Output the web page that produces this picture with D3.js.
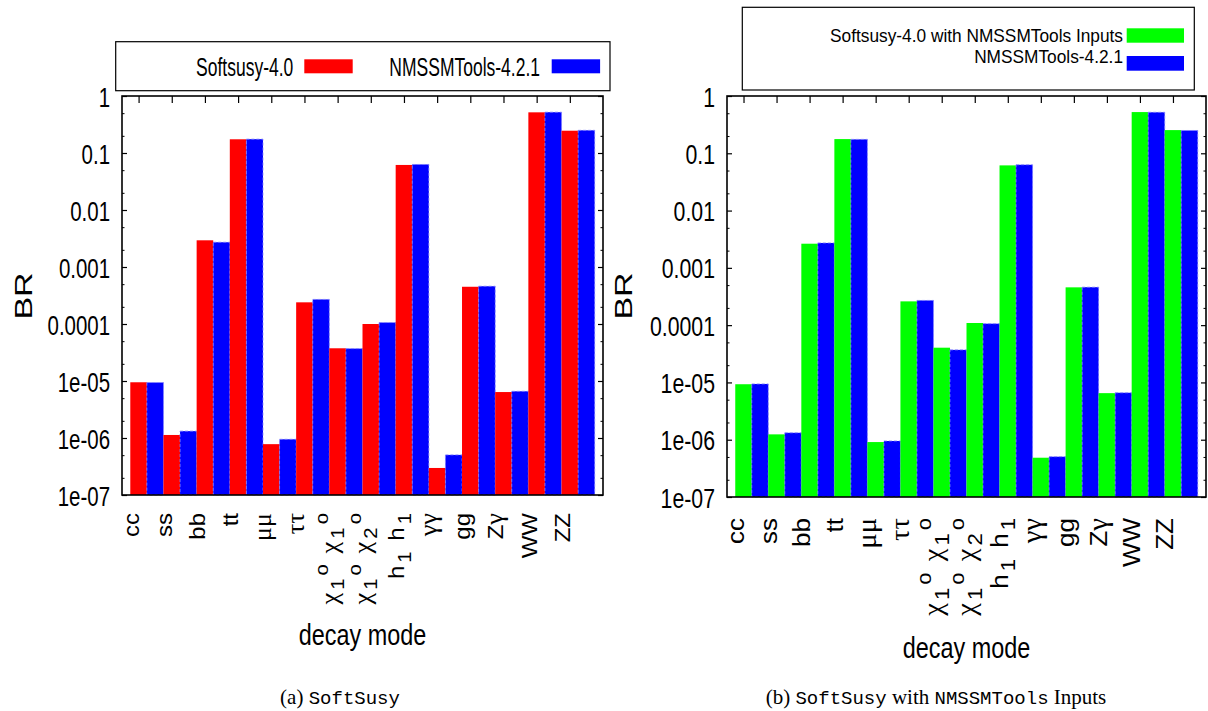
<!DOCTYPE html>
<html>
<head>
<meta charset="utf-8">
<script src="https://cdn.jsdelivr.net/npm/d3@7"></script>
<style>
  body { margin: 0; background: #fff; }
  text { font-family: "Liberation Sans", Arial, sans-serif; fill: #000; }
</style>
</head>
<body>
<div id="chart"></div>
<script>
// decay modes (gnuplot-style markup: _ subscript, ^ superscript)
const categories = ['cc', 'ss', 'bb', 'tt', 'μμ', 'ττ', 'χ_1^o χ_1^o', 'χ_1^o χ_2^o',
  'h_1 h_1', 'γγ', 'gg', 'Zγ', 'WW', 'ZZ'];

const yTickValues = [1, 0.1, 0.01, 0.001, 0.0001, 1e-5, 1e-6, 1e-7];
const yTickLabels = ['1', '0.1', '0.01', '0.001', '0.0001', '1e-05', '1e-06', '1e-07'];

// branching ratios
const softsusyA = [9.5e-6, 1.13e-6, 2.94e-3, 0.174, 7.8e-7, 2.4e-4, 3.75e-5, 1.0e-4,
  0.0617, 2.98e-7, 4.5e-4, 6.4e-6, 0.517, 0.246];
const softsusyB = [9.3e-6, 1.24e-6, 2.64e-3, 0.177, 9.1e-7, 2.6e-4, 4.04e-5, 1.09e-4,
  0.0615, 4.85e-7, 4.57e-4, 6.5e-6, 0.524, 0.254];
const nmssmtools = [9.4e-6, 1.32e-6, 2.72e-3, 0.175, 9.5e-7, 2.7e-4, 3.7e-5, 1.06e-4,
  0.063, 5.05e-7, 4.6e-4, 6.6e-6, 0.52, 0.25];

const svg = d3.select('#chart').append('svg')
  .attr('width', 1208)
  .attr('height', 711);

// condensed text: squeeze horizontally like the original figure
const narrow = (parent, x, y, str, size, k, anchor, rot) => {
  const g = parent.append('g')
    .attr('transform', `translate(${x},${y}) scale(${k},1)` + (rot ? ' rotate(-90)' : ''));
  return g.append('text')
    .attr('font-size', size)
    .attr('text-anchor', anchor || 'start')
    .text(str);
};

const greek = /[α-ω]/;

// write a label with _x / ^x markup into tspans
const richLabel = (textSel, str, size) => {
  let shift = 0;
  for (let i = 0; i < str.length; i++) {
    let ch = str[i];
    let target = 0;
    let fs = size;
    if (ch === '_' || ch === '^') {
      target = ch === '_' ? size * 0.3 : -size * 0.45;
      fs = size * 0.85;
      ch = str[++i];
    }
    const ts = textSel.append('tspan')
      .attr('dy', target - shift)
      .attr('font-size', greek.test(ch) ? fs * 1.1 : fs)
      .attr('dx', fs < size ? 3 : (ch === ' ' ? 4 : 0))
      .text(ch);
    if (greek.test(ch)) ts.style('font-family', '"Liberation Serif", "DejaVu Serif", serif');
    shift = target;
  }
};

const drawPanel = (p) => {
  const g = svg.append('g');
  const x = d3.scaleLinear().domain([-0.5, 14]).range([p.left, p.right]);
  const y = d3.scaleLog().domain([1e-7, 1]).range([p.bottom, p.top]);

  // bars
  categories.forEach((c, i) => {
    g.append('rect')
      .attr('x', x(i - 0.25))
      .attr('width', x(i + 0.25) - x(i - 0.25))
      .attr('y', y(p.first[i]))
      .attr('height', p.bottom - y(p.first[i]))
      .attr('fill', p.color);
    g.append('rect')
      .attr('x', x(i + 0.25))
      .attr('width', x(i + 0.75) - x(i + 0.25))
      .attr('y', y(p.second[i]))
      .attr('height', p.bottom - y(p.second[i]))
      .attr('fill', '#0000ff')
      .attr('stroke', '#8080ff')
      .attr('stroke-width', 0.8)
      .attr('stroke-dasharray', '3,2');
  });

  // minor ticks at 2x and 5x each decade
  const minor = [];
  d3.range(-7, 0).forEach((e) => { minor.push(2 * 10 ** e, 5 * 10 ** e); });

  const left = g.append('g')
    .attr('transform', `translate(${p.left},0)`)
    .call(d3.axisLeft(y).tickValues(yTickValues)
      .tickFormat((d, i) => yTickLabels[i]).tickSize(-5).tickPadding(12))
    .attr('font-size', 28)
    .attr('font-family', '"Liberation Sans", Arial, sans-serif');
  left.select('.domain').remove();
  left.selectAll('line').attr('stroke-width', 1.2);
  left.selectAll('text')
    .attr('transform', `scale(${p.tickK},1)`)
    .attr('x', -12 / p.tickK)
    .attr('dy', '0.36em');

  const leftMinor = g.append('g')
    .attr('transform', `translate(${p.left},0)`)
    .call(d3.axisLeft(y).tickValues(minor).tickFormat('').tickSize(-2.5));
  leftMinor.select('.domain').remove();

  const right = g.append('g')
    .attr('transform', `translate(${p.right},0)`)
    .call(d3.axisRight(y).tickValues(yTickValues).tickFormat('').tickSize(-5));
  right.select('.domain').remove();
  right.selectAll('line').attr('stroke-width', 1.2);
  const rightMinor = g.append('g')
    .attr('transform', `translate(${p.right},0)`)
    .call(d3.axisRight(y).tickValues(minor).tickFormat('').tickSize(-2.5));
  rightMinor.select('.domain').remove();

  const top = g.append('g')
    .attr('transform', `translate(0,${p.top})`)
    .call(d3.axisTop(x).tickValues(d3.range(categories.length)).tickFormat('').tickSize(-7));
  top.select('.domain').remove();
  top.selectAll('line').attr('stroke-width', 1.2);

  // frame
  g.append('rect')
    .attr('x', p.left)
    .attr('y', p.top)
    .attr('width', p.right - p.left)
    .attr('height', p.bottom - p.top)
    .attr('fill', 'none')
    .attr('stroke', '#000')
    .attr('stroke-width', 1.6);

  // category labels, rotated
  categories.forEach((c, i) => {
    const t = g.append('g')
      .attr('transform', `translate(${x(i)},${p.labelTop}) scale(0.92,1) rotate(-90)`)
      .append('text')
      .attr('text-anchor', 'end')
      .attr('font-size', p.labelSize)
      .attr('dy', '0.3em');
    richLabel(t, c, p.labelSize);
  });

  narrow(g, (p.left + p.right) / 2, p.titleY, 'decay mode', 30, 0.78, 'middle');
  narrow(g, p.brX, 296, 'BR', 34, 0.7, 'middle', true).attr('dy', '0.36em');
};

drawPanel({
  left: 122, right: 603, top: 96, bottom: 495,
  first: softsusyA, second: nmssmtools, color: '#ff0000',
  tickK: 0.73, labelTop: 513, labelSize: 24, titleY: 645, brX: 23
});
drawPanel({
  left: 727, right: 1206, top: 96, bottom: 497,
  first: softsusyB, second: nmssmtools, color: '#00ff00',
  tickK: 0.76, labelTop: 518, labelSize: 26, titleY: 658, brX: 623
});

// legend (a)
svg.append('rect')
  .attr('x', 115.7).attr('y', 41.7).attr('width', 494.3).attr('height', 49)
  .attr('fill', '#fff').attr('stroke', '#000').attr('stroke-width', 1.2);
narrow(svg, 293.3, 76, 'Softsusy-4.0', 25, 0.7, 'end');
svg.append('rect').attr('x', 304.3).attr('y', 59.3).attr('width', 48.4).attr('height', 14)
  .attr('fill', '#ff0000');
narrow(svg, 540, 76, 'NMSSMTools-4.2.1', 25, 0.7, 'end');
svg.append('rect').attr('x', 551.7).attr('y', 59.3).attr('width', 48.4).attr('height', 14)
  .attr('fill', '#0000ff');

// legend (b)
svg.append('rect')
  .attr('x', 742.3).attr('y', 7.3).attr('width', 452).attr('height', 82.7)
  .attr('fill', '#fff').attr('stroke', '#000').attr('stroke-width', 1.2);
narrow(svg, 1123, 42, 'Softsusy-4.0 with NMSSMTools Inputs', 19, 0.91, 'end');
svg.append('rect').attr('x', 1126.7).attr('y', 28.3).attr('width', 57.3).attr('height', 14.4)
  .attr('fill', '#00ff00');
narrow(svg, 1123, 63, 'NMSSMTools-4.2.1', 19, 0.91, 'end');
svg.append('rect').attr('x', 1126.7).attr('y', 56).attr('width', 57.3).attr('height', 14.7)
  .attr('fill', '#0000ff');

// sub-figure captions
const caption = (cx, parts) => {
  const t = svg.append('text')
    .attr('x', cx).attr('y', 704)
    .attr('text-anchor', 'middle');
  parts.forEach(([s, mono]) => {
    t.append('tspan')
      .attr('font-size', mono ? 19 : 21)
      .style('font-family', mono ? '"Liberation Mono", "DejaVu Sans Mono", monospace'
        : '"Liberation Serif", "DejaVu Serif", serif')
      .text(s);
  });
};
caption(340, [['(a) ', false], ['SoftSusy', true]]);
caption(936, [['(b) ', false], ['SoftSusy', true], [' with ', false],
  ['NMSSMTools', true], [' Inputs', false]]);
</script>
</body>
</html>
